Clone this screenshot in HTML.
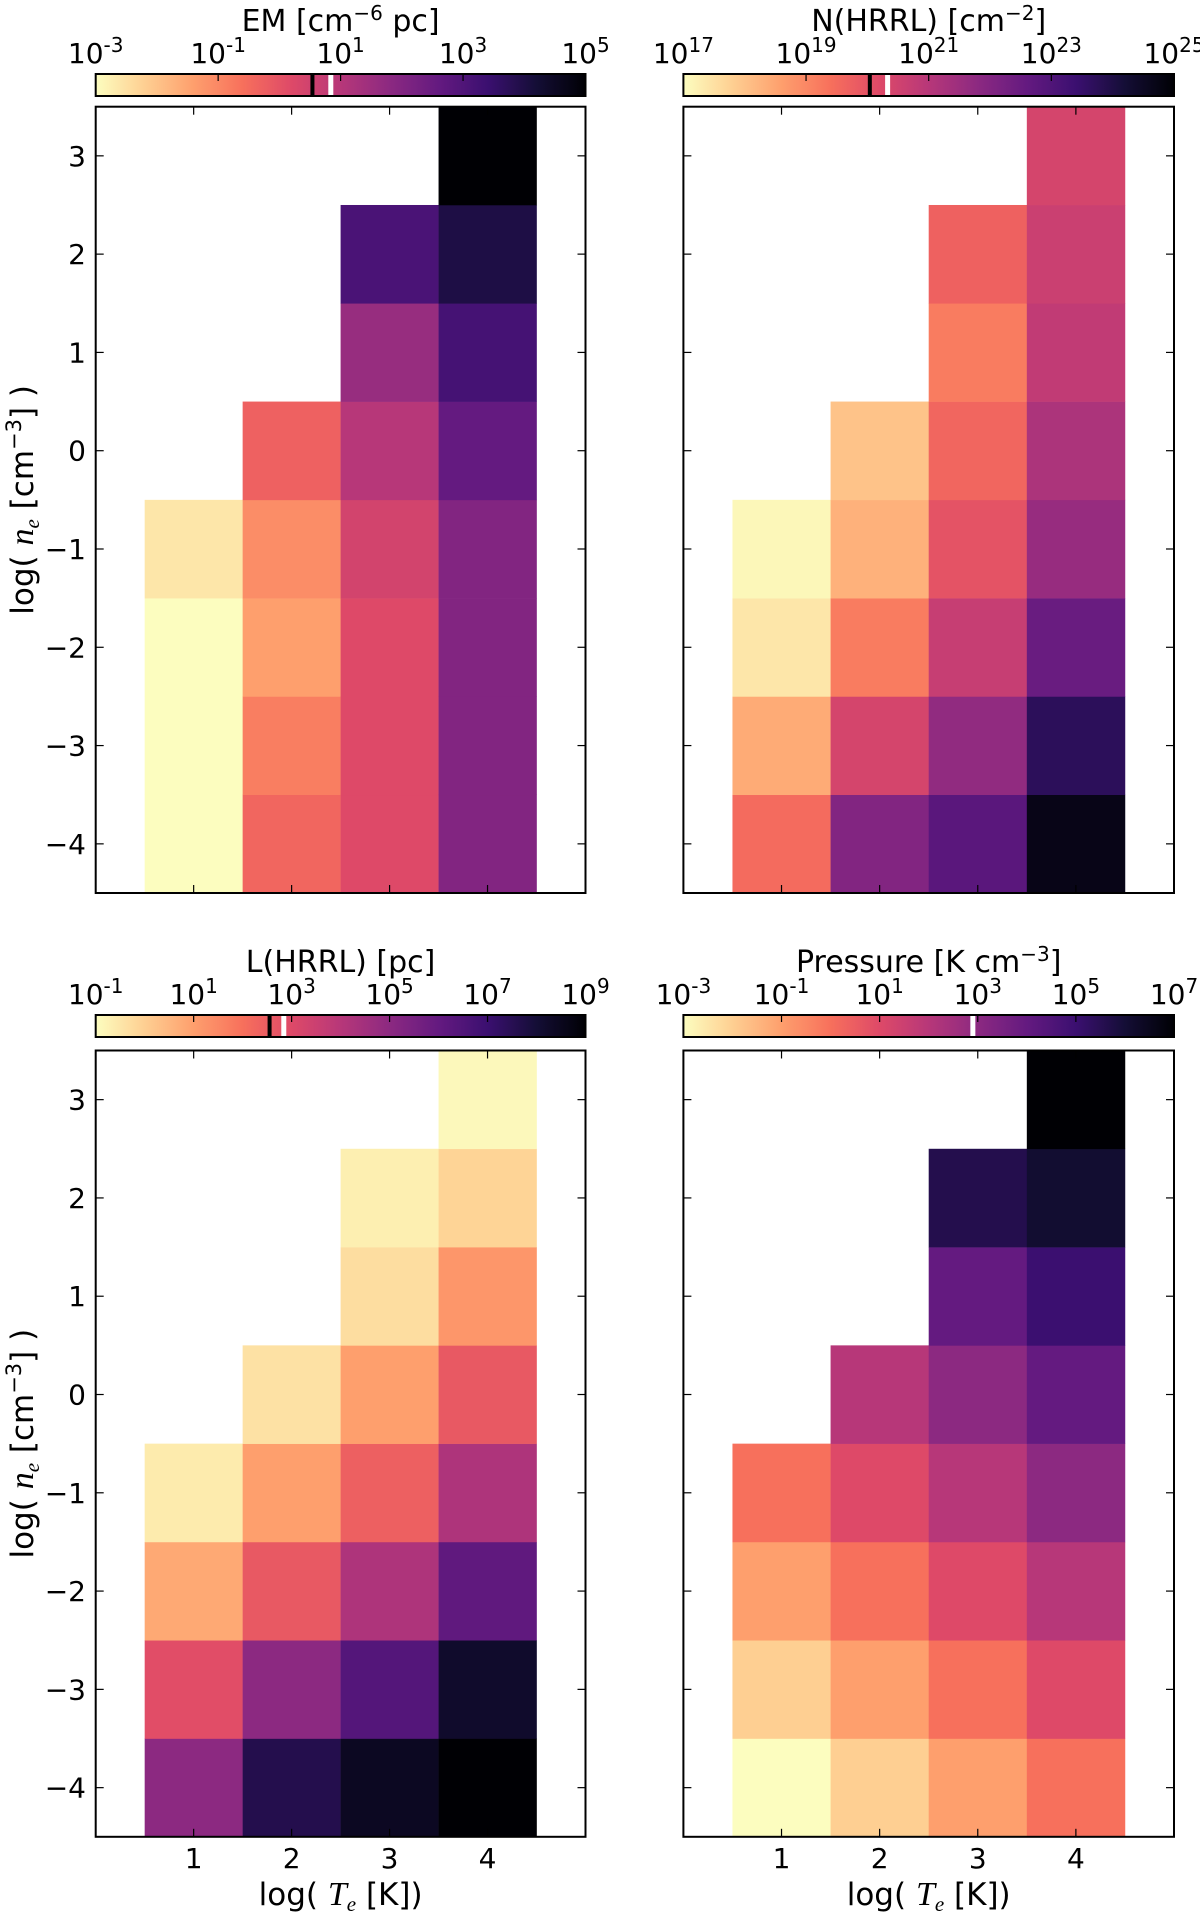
<!DOCTYPE html>
<html><head><meta charset="utf-8"><style>
html,body{margin:0;padding:0;background:#fff;}
svg{display:block;font-family:"DejaVu Sans","Liberation Sans",sans-serif;}
</style></head><body>
<svg id="fig" width="1200" height="1913" viewBox="0 0 1200 1913" xmlns="http://www.w3.org/2000/svg"></svg>
<script>
// ---- data (log10 values); rows are log ne from -4 (index 0) to 3 (index 7); columns log Te 1..4 ----
const teCats = [1, 2, 3, 4];
const neCats = [-4, -3, -2, -1, 0, 1, 2, 3];
const xTicks = [1, 2, 3, 4];
const yTicks = [-4, -3, -2, -1, 0, 1, 2, 3];
// null = empty
const emTe1 = [-3, -3, -3, -2.6, null, null, null, null];
const emTe2 = [-0.4, -0.84, -1.4, -1.1, -0.3, null, null, null];
const emTe3 = [0.2, 0.2, 0.2, 0.44, 1.0, 1.6, 3.1, null];
const emTe4 = [2.0, 2.0, 2.0, 2.0, 2.6, 3.2, 4.0, 5.0];
const nTe1 = [19.5, 18.4, 17.4, 17.1, null, null, null, null];
const nTe2 = [22.0, 20.4, 19.2, 18.3, 18.0, null, null, null];
const nTe3 = [22.8, 21.7, 20.7, 20.0, 19.6, 19.2, 19.7, null];
const nTe4 = [24.7, 23.7, 22.5, 21.6, 21.2, 20.8, 20.6, 20.4];
const lTe1 = [5.0, 2.9, 0.8, -0.6, null, null, null, null];
const lTe2 = [7.6, 5.0, 2.6, 1.0, -0.4, null, null, null];
const lTe3 = [8.4, 6.4, 4.2, 2.4, 1.0, -0.3, -0.7, null];
const lTe4 = [9.0, 8.2, 6.1, 4.2, 2.6, 1.2, -0.1, -0.9];
const pTe1 = [-3, -2, -1, 0, null, null, null, null];
const pTe2 = [-2, -1, 0, 1, 2, null, null, null];
const pTe3 = [-1, 0, 1, 2, 3, 4, 5.6, null];
const pTe4 = [0, 1, 2, 3, 4, 5, 6.1, 7];
const emRange = [-3, 5], nRange = [17, 25], lRange = [-1, 9], pRange = [-3, 7];
const emCbTicks = [-3, -1, 1, 3, 5];
const nCbTicks = [17, 19, 21, 23, 25];
const lCbTicks = [-1, 1, 3, 5, 7, 9];
const pCbTicks = [-3, -1, 1, 3, 5, 7];
const emMarks = [0.54, 0.84];
const nMarks = [20.04, 20.33];
const lMarks = [2.55, 2.84];
const pMarks = [null, 2.9];

const magma = ["#000004","#140e36","#3b0f70","#641a80","#8c2981","#b73779","#de4968","#f7705c","#fe9f6d","#fecf92","#fcfdbf"];
function hx(c){return [1,3,5].map(i=>parseInt(c.substr(i,2),16));}
function mag(t){t=Math.max(0,Math.min(1,t));const f=t*10,i=Math.min(9,Math.floor(f)),r=f-i;
 const a=hx(magma[i]),b=hx(magma[i+1]);return "rgb("+a.map((v,k)=>Math.round(v+(b[k]-v)*r)).join(",")+")";}
const NS="http://www.w3.org/2000/svg";
const svg=document.getElementById('fig');
function el(tag,attrs,parent){const e=document.createElementNS(NS,tag);for(const k in attrs)e.setAttribute(k,attrs[k]);(parent||svg).appendChild(e);return e;}

const panels=[
 {name:'em',title:['EM [cm','−6',' pc]'],cols:[emTe1,emTe2,emTe3,emTe4],range:emRange,ticks:emCbTicks,marks:emMarks,x0:95.7,x1:585.5,cbY:74,axY:106.7,titleY:31,tlY:63,ylab:true,xlab:false},
 {name:'n-hrrl',title:['N(HRRL) [cm','−2',']'],cols:[nTe1,nTe2,nTe3,nTe4],range:nRange,ticks:nCbTicks,marks:nMarks,x0:683.4,x1:1174,cbY:74,axY:106.7,titleY:31,tlY:63,ylab:false,xlab:false},
 {name:'l-hrrl',title:['L(HRRL) [pc]','',''],cols:[lTe1,lTe2,lTe3,lTe4],range:lRange,ticks:lCbTicks,marks:lMarks,x0:95.7,x1:585.5,cbY:1015,axY:1050.5,titleY:972,tlY:1004,ylab:true,xlab:true},
 {name:'pressure',title:['Pressure [K cm','−3',']'],cols:[pTe1,pTe2,pTe3,pTe4],range:pRange,ticks:pCbTicks,marks:pMarks,x0:683.4,x1:1174,cbY:1015,axY:1050.5,titleY:972,tlY:1004,ylab:false,xlab:true}
];
const AXH=786.3, CBH=22;

const defs=el('defs',{});
const lg=el('linearGradient',{id:'cmap',x1:'0',x2:'1',y1:'0',y2:'0'},defs);
for(let i=0;i<=40;i++){el('stop',{offset:(i/40),'stop-color':mag(1-i/40)},lg);}

panels.forEach(p=>{
 const g=el('g',{});
 
 
 const W=p.x1-p.x0;
 const sx=v=>p.x0+v/5*W;
 const sy=v=>p.axY+(3.5-v)/8*AXH;
 const sc=v=>p.x0+(v-p.range[0])/(p.range[1]-p.range[0])*W;
 const t=el('text',{x:(p.x0+p.x1)/2,y:p.titleY,'text-anchor':'middle','font-size':30},g);
 
 
 t.textContent=p.title[0];
 if(p.title[1]){const s=el('tspan',{dy:-11,'font-size':20},t);s.textContent=p.title[1];const s2=el('tspan',{dy:11},t);s2.textContent=p.title[2];}
 const cb=el('rect',{x:p.x0,y:p.cbY,width:W,height:CBH,fill:'url(#cmap)',stroke:'#000','stroke-width':2},g);
 
 
 p.ticks.forEach((tv,i)=>{
  const x=sc(tv);
  el('line',{x1:x,x2:x,y1:p.cbY,y2:p.cbY+7,stroke:'#000','stroke-width':1.2},g);
  const lt=el('text',{x:x,y:p.tlY,'text-anchor':'middle','font-size':28},g);
  
  
  lt.textContent='10';
  const sp=el('tspan',{dy:-11,'font-size':20},lt);sp.textContent=String(tv);
 });
 p.marks.forEach((m,i)=>{
  if(m===null)return;
  const x=sc(m);
  const ml=el('line',{x1:x,x2:x,y1:p.cbY+1,y2:p.cbY+CBH-1,stroke:i===0?'#000':'#fff','stroke-width':i===0?4:5},g);
  
  
 });
 p.cols.forEach((col,ci)=>{
  col.forEach((v,ri)=>{
   if(v===null)return;
   const te=teCats[ci],ne=neCats[ri];
   const x=sx(te-0.5),y=sy(ne+0.5);
   const r=el('rect',{x:x,y:y,width:sx(te+0.5)-x+0.3,height:sy(ne-0.5)-y+0.3,fill:mag(1-(v-p.range[0])/(p.range[1]-p.range[0]))},g);
   
   
  });
 });
 const fr=el('rect',{x:p.x0,y:p.axY,width:W,height:AXH,fill:'none',stroke:'#000','stroke-width':2},g);
 
 
 xTicks.forEach(tv=>{
  const x=sx(tv);
  el('line',{x1:x,x2:x,y1:p.axY,y2:p.axY+8,stroke:'#000','stroke-width':1.2},g);
  el('line',{x1:x,x2:x,y1:p.axY+AXH,y2:p.axY+AXH-8,stroke:'#000','stroke-width':1.2},g);
  if(p.xlab){const xt=el('text',{x:x,y:1868,'text-anchor':'middle','font-size':28},g);
   
   
   xt.textContent=String(tv);}
 });
 yTicks.forEach(tv=>{
  const y=sy(tv);
  el('line',{x1:p.x0,x2:p.x0+8,y1:y,y2:y,stroke:'#000','stroke-width':1.2},g);
  el('line',{x1:p.x1,x2:p.x1-8,y1:y,y2:y,stroke:'#000','stroke-width':1.2},g);
  if(p.ylab){const yt=el('text',{x:86,y:y+10,'text-anchor':'end','font-size':28},g);
   
   
   yt.textContent=(tv<0?'−':'')+Math.abs(tv);}
 });
 if(p.ylab){
  const cy=p.axY+AXH/2;
  const yl=el('text',{x:0,y:0,'text-anchor':'middle','font-size':31,transform:'translate(33,'+cy+') rotate(-90)'},g);
  
  
  yl.textContent='log( ';
  const a=el('tspan',{'font-style':'italic','font-family':'Liberation Serif, serif','font-size':34},yl);a.textContent='n';
  const b=el('tspan',{dy:6,'font-size':21,'font-style':'italic','font-family':'Liberation Serif, serif'},yl);b.textContent='e';
  const c=el('tspan',{dy:-6},yl);c.textContent=' [cm';
  const d=el('tspan',{dy:-12,'font-size':21},yl);d.textContent='−3';
  const e=el('tspan',{dy:12},yl);e.textContent='] )';
 }
 if(p.xlab){
  const xl=el('text',{x:(p.x0+p.x1)/2,y:1905,'text-anchor':'middle','font-size':31},g);
  
  
  xl.textContent='log( ';
  const a=el('tspan',{'font-style':'italic','font-family':'Liberation Serif, serif','font-size':34},xl);a.textContent='T';
  const b=el('tspan',{dy:6,'font-size':21,'font-style':'italic','font-family':'Liberation Serif, serif'},xl);b.textContent='e';
  const c=el('tspan',{dy:-6},xl);c.textContent=' [K])';
 }
});
</script>
</body></html>
